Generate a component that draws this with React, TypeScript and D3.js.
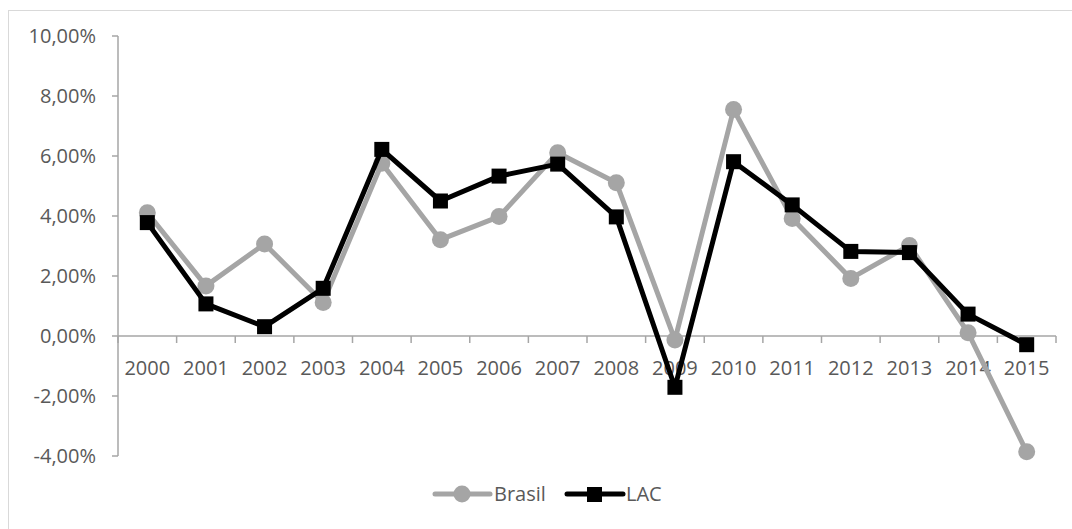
import React from 'react'
import * as d3 from 'd3'

const years = ['2000', '2001', '2002', '2003', '2004', '2005', '2006', '2007', '2008', '2009', '2010', '2011', '2012', '2013', '2014', '2015']
const brasil = [4.11, 1.67, 3.07, 1.12, 5.76, 3.21, 3.98, 6.11, 5.11, -0.13, 7.55, 3.92, 1.92, 3.02, 0.11, -3.86]
const lac = [3.78, 1.07, 0.31, 1.59, 6.22, 4.5, 5.33, 5.73, 3.97, -1.71, 5.81, 4.37, 2.82, 2.78, 0.73, -0.29]
const yTicks = [-4, -2, 0, 2, 4, 6, 8, 10]

const font = '"Open Sans", sans-serif'
const axisColor = '#a6a6a6'
const textColor = '#595959'

export default function App() {
  const x = d3.scaleBand<string>().domain(years).range([118, 1056])
  const y = d3.scaleLinear().domain([-4, 10]).range([456, 36])
  const cx = (yr: string) => x(yr)! + x.bandwidth() / 2
  const line = d3.line<number>().x((_, i) => cx(years[i])).y(d => y(d))
  const fmt = (v: number) => v.toFixed(2).replace('.', ',') + '%'
  const y0 = y(0)
  const bounds = [...years.map(yr => x(yr)!), 1056]

  return (
    <svg width={1072} height={529} style={{ position: 'absolute', left: 0, top: 0 }}>
      <rect x={8.5} y={10.5} width={1100} height={560} fill="#fff" stroke="#d9d9d9" strokeWidth={1} />

      {/* y axis */}
      <line x1={118} x2={118} y1={y(10)} y2={y(-4)} stroke={axisColor} strokeWidth={1.5} />
      {yTicks.map(t => (
        <g key={t}>
          <line x1={112} x2={118} y1={y(t)} y2={y(t)} stroke={axisColor} strokeWidth={1.5} />
          <text x={96} y={y(t)} dy="0.35em" textAnchor="end" fontFamily={font} fontSize={20} fill={textColor}>{fmt(t)}</text>
        </g>
      ))}

      {/* x axis at 0 */}
      <line x1={118} x2={1056} y1={y0} y2={y0} stroke={axisColor} strokeWidth={1.5} />
      {bounds.map((b, i) => (
        <line key={i} x1={b} x2={b} y1={y0} y2={y0 + 7} stroke={axisColor} strokeWidth={1.5} />
      ))}
      {years.map(yr => (
        <text key={yr} x={cx(yr)} y={y0 + 32} dy="0.35em" textAnchor="middle" fontFamily={font} fontSize={20} fill={textColor}>{yr}</text>
      ))}

      {/* Brasil */}
      <path d={line(brasil)!} fill="none" stroke="#a5a5a5" strokeWidth={5} strokeLinejoin="round" />
      {brasil.map((v, i) => (
        <circle key={i} cx={cx(years[i])} cy={y(v)} r={8.5} fill="#a5a5a5" />
      ))}

      {/* LAC */}
      <path d={line(lac)!} fill="none" stroke="#000" strokeWidth={5} strokeLinejoin="round" />
      {lac.map((v, i) => (
        <rect key={i} x={cx(years[i]) - 7.5} y={y(v) - 7.5} width={15} height={15} fill="#000" />
      ))}

      {/* legend */}
      <g>
        <line x1={435} x2={490} y1={494} y2={494} stroke="#a5a5a5" strokeWidth={5} strokeLinecap="round" />
        <circle cx={462} cy={494} r={8.5} fill="#a5a5a5" />
        <text x={494} y={494} dy="0.35em" fontFamily={font} fontSize={20} fill={textColor}>Brasil</text>
        <line x1={567} x2={623} y1={494} y2={494} stroke="#000" strokeWidth={5} strokeLinecap="round" />
        <rect x={587} y={487} width={15} height={15} fill="#000" />
        <text x={626} y={494} dy="0.35em" fontFamily={font} fontSize={20} fill={textColor}>LAC</text>
      </g>
    </svg>
  )
}
